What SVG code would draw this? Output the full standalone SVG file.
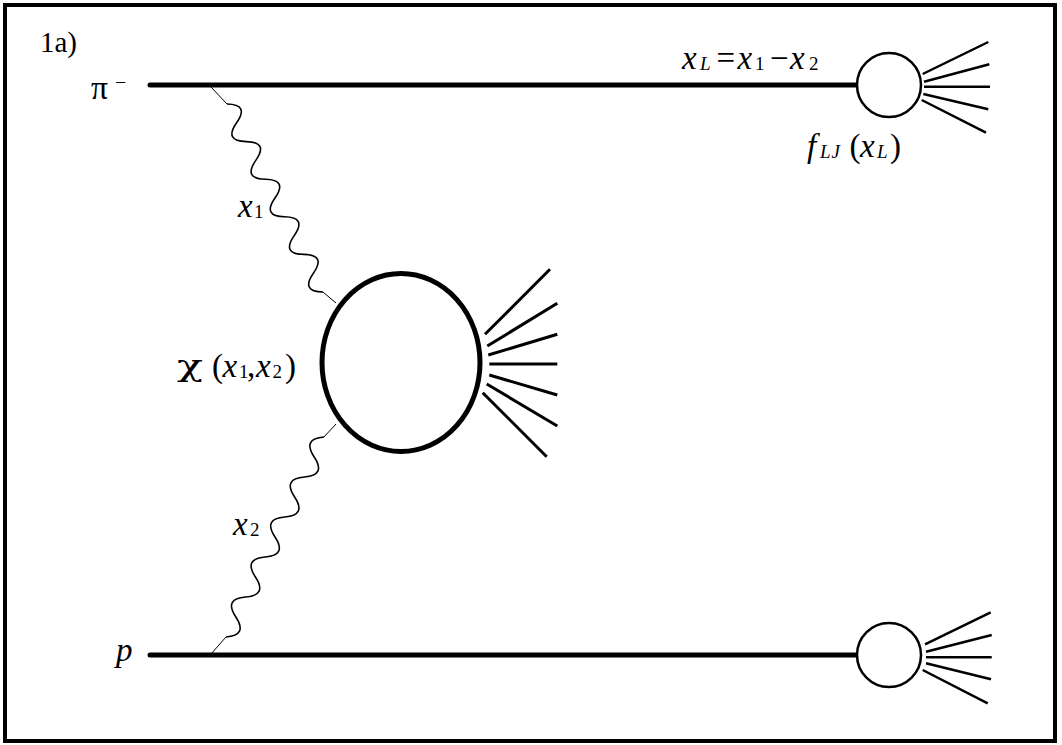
<svg xmlns="http://www.w3.org/2000/svg" width="1062" height="745" viewBox="0 0 1062 745" font-family="'Liberation Serif', 'Times New Roman', serif">
<style>
text{font-family:'Liberation Serif','Times New Roman',serif;fill:#000}
.i{font-style:italic}
.sub{font-size:19px}
.big{font-size:33px}
.greek{font-family:'DejaVu Serif','Liberation Serif',serif;font-size:30px}
.hadron{stroke:#000;stroke-width:5;fill:none;stroke-linecap:round}
.photon{stroke:#000;stroke-width:1.6;fill:none}
.stub{stroke:#000;stroke-width:1;fill:none}
.blob{stroke:#000;stroke-width:2.5;fill:#fff}
.fan{stroke:#000;stroke-width:2.5;fill:none}
.fanbig{stroke:#000;stroke-width:3;fill:none}
</style>
<defs>
<path id="wave1" d="M0,0 c7.04,-13.3 14.07,-13.3 21.11,0 c7.04,13.3 14.07,13.3 21.11,0 c7.04,-13.3 14.07,-13.3 21.11,0 c7.04,13.3 14.07,13.3 21.11,0 c7.04,-13.3 14.07,-13.3 21.11,0 c7.04,13.3 14.07,13.3 21.11,0 c7.04,-13.3 14.07,-13.3 21.11,0 c7.04,13.3 14.07,13.3 21.11,0 c7.04,-13.3 14.07,-13.3 21.11,0 c7.04,13.3 14.07,13.3 21.11,0"/>
<path id="wave2" d="M0,0 c7.42,12.7 14.85,12.7 22.27,0 c7.42,-12.7 14.85,-12.7 22.27,0 c7.42,12.7 14.85,12.7 22.27,0 c7.42,-12.7 14.85,-12.7 22.27,0 c7.42,12.7 14.85,12.7 22.27,0 c7.42,-12.7 14.85,-12.7 22.27,0 c7.42,12.7 14.85,12.7 22.27,0 c7.42,-12.7 14.85,-12.7 22.27,0 c7.42,12.7 14.85,12.7 22.27,0 c7.42,-12.7 14.85,-12.7 22.27,0"/>
</defs>
<rect width="1062" height="745" fill="#fff"/>
<rect id="frame" x="5" y="5" width="1050" height="736" fill="#fff" stroke="#000" stroke-width="4"/>
<text id="label-1a" x="40" y="52" font-size="29">1a)</text>

<g id="connectors">
  <path id="pi-line" class="hadron" d="M150,85 H857"/>
  <path id="p-line" class="hadron" d="M150,655 H857"/>
  <g id="photon-x1">
    <path class="stub" d="M210,86 L227,104"/>
    <use href="#wave1" class="photon" transform="translate(227,104) rotate(62.95)"/>
    <path class="stub" d="M323,292 L336,303"/>
  </g>
  <g id="photon-x2">
    <path class="stub" d="M336,424 L324,437"/>
    <use href="#wave2" class="photon" transform="translate(324,437) rotate(116.1)"/>
    <path class="stub" d="M226,637 L211,654"/>
  </g>
</g>

<g id="node-pi">
  <text class="big" x="91" y="98.5" textLength="17" lengthAdjust="spacingAndGlyphs">π</text>
  <text x="115" y="89" font-size="20">−</text>
</g>
<g id="node-p">
  <text class="big i" x="116" y="661">p</text>
</g>

<g id="node-blob-top">
  <circle class="blob" cx="889" cy="85" r="32"/>
  <path class="fan" d="M922.7,74 L988.3,42 M924,81.7 L989.3,64.3 M924,86.7 L990,86.7 M923.3,94 L988.3,109.3 M921.7,100 L986,132.7"/>
</g>
<g id="node-blob-bottom">
  <circle class="blob" cx="889" cy="655" r="32"/>
  <path class="fan" d="M925,644.3 L990.7,612.3 M926,651.7 L991.7,635 M926,657.3 L991.7,657.3 M926,663.3 L991,679.3 M922.7,670 L987.7,703.3"/>
</g>
<g id="node-chi">
  <ellipse cx="401" cy="362.5" rx="79" ry="89" fill="#fff" stroke="#000" stroke-width="5"/>
  <path class="fanbig" d="M485,334.3 L550,269.3 M487.3,346 L557.3,303.3 M488.3,355 L557.3,334.3 M489.3,364 L557.3,364 M489.3,375 L557.3,395 M486.7,384 L557.3,426 M482.7,392.7 L546.7,456.7"/>
</g>

<g id="label-xL">
  <text class="big i" x="682" y="69">x</text>
  <text class="sub i" x="700" y="70">L</text>
  <text class="big" x="716.5" y="69">=</text>
  <text class="big i" x="737.5" y="69">x</text>
  <text class="sub" x="755" y="70">1</text>
  <text class="big" x="770" y="69">−</text>
  <text class="big i" x="790" y="69">x</text>
  <text class="sub" x="809" y="70">2</text>
</g>
<g id="label-fLJ">
  <text class="big i" x="807" y="157">f</text>
  <text class="sub i" x="820" y="158">L</text>
  <text class="sub i" x="831.5" y="158">J</text>
  <text class="big" x="849.5" y="157">(</text>
  <text class="big i" x="860" y="157">x</text>
  <text class="sub i" x="877" y="158">L</text>
  <text class="big" x="890" y="157">)</text>
</g>
<g id="label-chi">
  <text class="greek" x="177" y="376" textLength="26" lengthAdjust="spacingAndGlyphs">χ</text>
  <text class="big" x="212" y="377">(</text>
  <text class="big i" x="222.5" y="377">x</text>
  <text class="sub" x="239" y="378">1</text>
  <text class="big" x="247" y="377">,</text>
  <text class="big i" x="256" y="377">x</text>
  <text class="sub" x="272.5" y="378">2</text>
  <text class="big" x="285" y="377">)</text>
</g>
<g id="label-x1">
  <text class="big i" x="238" y="216.5">x</text>
  <text class="sub" x="254" y="218">1</text>
</g>
<g id="label-x2">
  <text class="big i" x="233" y="535">x</text>
  <text class="sub" x="250" y="536">2</text>
</g>
</svg>
